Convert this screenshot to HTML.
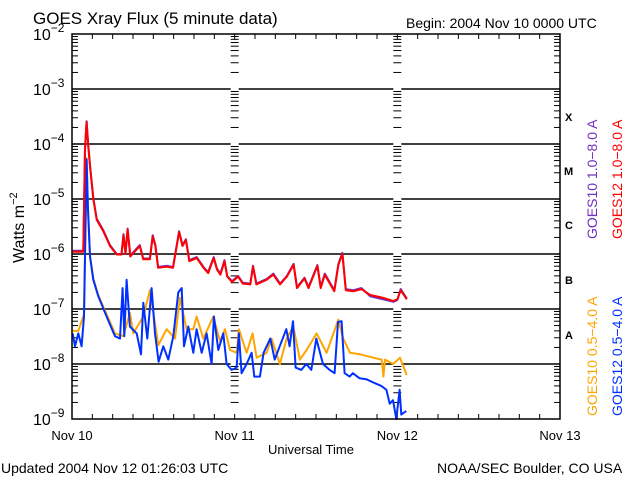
<!DOCTYPE html>
<html><head><meta charset="utf-8"><style>
html,body{margin:0;padding:0;background:#fff}
svg{display:block}
text{font-family:"Liberation Sans",sans-serif}
</style></head><body>
<svg id="chart" width="640" height="480" viewBox="0 0 640 480" xmlns="http://www.w3.org/2000/svg">
<text x="33" y="24" font-size="17" fill="#000">GOES Xray Flux (5 minute data)</text>
<text x="406" y="28" font-size="14" fill="#000">Begin:  2004 Nov 10 0000 UTC</text>
<g id="grid"></g>
<g id="ticks"></g>
<g id="ylabels"></g>
<g id="xlabels"></g>
<g id="series"></g>
<rect x="72" y="34" width="488" height="385" fill="none" stroke="#000" stroke-width="1.5"/>
<text transform="translate(24,263) rotate(-90)" font-size="16" fill="#000">Watts m<tspan font-size="11" dy="-7">−2</tspan></text>
<text x="268" y="454" font-size="13" fill="#000">Universal Time</text>
<text x="1" y="473" font-size="14" fill="#000">Updated 2004 Nov 12 01:26:03 UTC</text>
<text x="437" y="473" font-size="14" fill="#000">NOAA/SEC Boulder, CO USA</text>
<g font-family="Liberation Serif,serif" font-weight="bold" font-size="11" fill="#000">
<text x="565" y="121">X</text>
<text x="564" y="175">M</text>
<text x="565" y="229">C</text>
<text x="565" y="284">B</text>
<text x="565" y="339">A</text>
</g>
<text transform="translate(597,239) rotate(-90)" font-size="14" fill="#7030c0">GOES10 1.0−8.0 A</text>
<text transform="translate(622,239) rotate(-90)" font-size="14" fill="#ff0000">GOES12 1.0−8.0 A</text>
<text transform="translate(597,416) rotate(-90)" font-size="14" fill="#ffa500">GOES10 0.5−4.0 A</text>
<text transform="translate(622,416) rotate(-90)" font-size="14" fill="#0030ff">GOES12 0.5−4.0 A</text>
</svg>
<script>
const dayLabels = ["Nov 10","Nov 11","Nov 12","Nov 13"];
const decadeExps = [-9,-8,-7,-6,-5,-4,-3,-2];
const longHours = [0.1,1.67,1.92,2.16,2.41,2.66,3.15,3.64,4.62,5.6,6.6,7.3,7.6,7.9,8.2,8.6,10.0,10.5,11.5,11.9,12.3,12.7,14.0,14.9,15.8,16.3,16.8,17.3,18.4,19.4,20.1,20.9,21.4,21.9,22.5,22.9,23.6,24.5,25.2,26.3,26.7,27.2,28.7,29.7,30.7,31.7,32.7,33.2,34.3,34.9,36.2,36.7,37.3,38.7,39.3,39.9,40.4,41.5,42.7,44.0,45.9,47.4,48.0,48.5,49.4];
const goes12Long = [1.1e-6,1.1e-6,8e-5,2.5e-4,9e-5,4e-5,1e-5,4.2e-6,2.6e-6,1.4e-6,9.8e-7,9.8e-7,2.2e-6,1.0e-6,2.8e-6,9e-7,1.4e-6,8e-7,8e-7,2.1e-6,1.4e-6,5.6e-7,5.9e-7,5.6e-7,2.5e-6,1.4e-6,1.8e-6,7.4e-7,8.5e-7,5.6e-7,4.5e-7,8.5e-7,5.2e-7,4.2e-7,7.4e-7,3.9e-7,3.1e-7,3.9e-7,2.9e-7,2.8e-7,5.9e-7,2.8e-7,3.4e-7,4.2e-7,2.8e-7,3.9e-7,6.4e-7,2.4e-7,3.6e-7,2.4e-7,6.1e-7,2.4e-7,4.2e-7,2.1e-7,6.4e-7,1.0e-6,2.2e-7,2.1e-7,2.3e-7,1.8e-7,1.6e-7,1.4e-7,1.5e-7,2.2e-7,1.5e-7];
const goes10Long = [1.15e-6,1.15e-6,8.2e-5,2.6e-4,9.2e-5,4.1e-5,1.05e-5,4.4e-6,2.7e-6,1.45e-6,1.0e-6,1.0e-6,2.3e-6,1.05e-6,2.9e-6,9.4e-7,1.45e-6,8.3e-7,8.3e-7,2.2e-6,1.45e-6,5.8e-7,6.1e-7,5.8e-7,2.6e-6,1.45e-6,1.85e-6,7.7e-7,8.8e-7,5.8e-7,4.7e-7,8.8e-7,5.4e-7,4.4e-7,7.7e-7,4.0e-7,3.2e-7,4.0e-7,3.0e-7,2.9e-7,6.1e-7,2.9e-7,3.5e-7,4.4e-7,2.9e-7,4.0e-7,6.6e-7,2.5e-7,3.7e-7,2.5e-7,6.3e-7,2.5e-7,4.4e-7,2.2e-7,6.6e-7,1.05e-6,2.3e-7,2.2e-7,2.4e-7,1.7e-7,1.5e-7,1.35e-7,1.45e-7,2.3e-7,1.55e-7];
const shortHours12 = [0.1,0.44,0.93,1.42,1.77,1.97,2.16,2.36,2.66,3.15,3.88,5.11,6.34,7.08,7.47,7.72,8.06,8.55,9.54,10.18,10.52,11.11,11.75,12.24,12.78,13.47,14.21,14.95,15.68,16.18,16.52,17.16,17.9,18.39,19.13,19.86,20.6,20.94,21.58,22.32,22.81,23.55,24.29,24.63,25.03,25.76,26.5,26.89,27.73,28.27,29.26,29.9,30.64,31.62,32.11,32.6,32.99,33.83,34.57,35.31,36.05,37.03,38.01,38.75,39.24,39.78,40.22,40.96,41.45,42.44,43.42,44.65,45.64,46.38,46.87,47.36,47.85,48.34,48.59,49.33];
const goes12Short = [3.6e-8,2.1e-8,3.6e-8,2.1e-8,7.3e-8,2.4e-6,5.3e-5,6.4e-6,9e-7,3.4e-7,1.7e-7,7.3e-8,3.2e-8,2.9e-8,2.4e-7,3.2e-8,3.4e-7,4.8e-8,3.6e-8,1.5e-8,1.3e-7,2.9e-8,2.4e-7,3.6e-8,1.1e-8,2.1e-8,1.2e-8,3.2e-8,2.0e-7,2.4e-7,2.1e-8,4.8e-8,1.6e-8,4.3e-8,1.6e-8,3.6e-8,1.0e-8,7.3e-8,1.8e-8,3.6e-8,1.0e-8,7.8e-9,8.6e-9,3.6e-8,6.8e-9,1.0e-8,1.6e-8,5.9e-9,5.9e-9,1.6e-8,2.9e-8,1.2e-8,2.1e-8,4.3e-8,2.1e-8,6.0e-8,8.6e-9,7.8e-9,1.0e-8,7.8e-9,2.9e-8,1.0e-8,7.8e-9,6.8e-9,5.8e-8,6.0e-8,6.8e-9,5.9e-9,6.8e-9,5.5e-9,5.3e-9,4.5e-9,4.0e-9,3.4e-9,1.9e-9,2.2e-9,1.0e-9,3.4e-9,1.2e-9,1.4e-9];
const shortHours10 = [0.1,0.93,1.77,1.97,2.16,2.36,2.66,3.15,3.88,5.11,6.34,7.57,8.55,9.05,10.52,11.5,12.73,13.96,15.19,15.93,16.91,17.9,18.39,19.37,20.85,21.84,22.57,23.31,24.29,24.63,25.76,26.65,27.24,28.71,29.45,30.68,31.66,32.65,33.63,34.62,36.09,37.57,39.29,40.02,41.01,42.49,44.46,45.69,45.94,46.18,47.41,48.39,49.38];
const goes10Short = [4e-8,4e-8,8e-8,2.5e-6,5.5e-5,6.6e-6,9.5e-7,3.6e-7,1.8e-7,8e-8,3.6e-8,3.2e-8,8.5e-8,3.6e-8,7.3e-8,2.2e-7,2.2e-8,4.3e-8,2.9e-8,1.6e-7,4.3e-8,4.3e-8,7.3e-8,2.9e-8,7.3e-8,2.6e-8,4.3e-8,1.8e-8,1.6e-8,4.3e-8,1.6e-8,3.6e-8,1.3e-8,1.6e-8,2.9e-8,1.0e-8,2.9e-8,4.8e-8,1.2e-8,1.8e-8,3.6e-8,1.6e-8,6.4e-8,2.9e-8,1.6e-8,1.5e-8,1.3e-8,1.2e-8,5.9e-9,1.2e-8,1.0e-8,1.3e-8,6.3e-9];

const L=72,R=560,T=34,B=419;
const dayW=(R-L)/3;
function xs(h){return L+h/24*dayW;}
function ys(v){return B-(Math.log10(v)+9)*(B-T)/7;}
const NS="http://www.w3.org/2000/svg";
function mk(tag,attrs,parent){const e=document.createElementNS(NS,tag);for(const k in attrs)e.setAttribute(k,attrs[k]);parent.appendChild(e);return e;}
const grid=document.getElementById('grid'),ticks=document.getElementById('ticks');
const ylab=document.getElementById('ylabels'),xlab=document.getElementById('xlabels'),ser=document.getElementById('series');

decadeExps.forEach(function(ex){
  const y=ys(Math.pow(10,ex));
  if(ex>-9&&ex<-2){
    [[L,xs(24)-4],[xs(24)+4,xs(48)-4],[xs(48)+4,R]].forEach(function(seg){
      const g=mk('line',{x1:seg[0],x2:seg[1],y1:y,y2:y,stroke:'#000','stroke-width':1.5},grid);
      
      
    });
  }
  const t=mk('text',{x:33,y:y+6,'font-size':16,fill:'#000'},ylab);
  
  
  t.textContent='10';
  const s=mk('tspan',{'font-size':12,dy:-8},t);
  s.textContent='−'+(-ex);
  if(ex<-2){
    for(let m=2;m<=9;m++){
      const yy=ys(m*Math.pow(10,ex));
      [[L,L+6],[R-6,R],[xs(24)-4,xs(24)+4],[xs(48)-4,xs(48)+4]].forEach(function(p){
        const tk=mk('line',{x1:p[0],x2:p[1],y1:yy,y2:yy,stroke:'#000','stroke-width':1},ticks);
        
        
      });
    }
  }
});
for(let h=3;h<72;h+=3){
  const x=xs(h);
  const tb=mk('line',{x1:x,x2:x,y1:B-5,y2:B,stroke:'#000','stroke-width':1},ticks);
  
  
  const tt=mk('line',{x1:x,x2:x,y1:T,y2:T+5,stroke:'#000','stroke-width':1},ticks);
  
  
}
dayLabels.forEach(function(lbl,i){
  const t=mk('text',{x:xs(i*24),y:440,'font-size':13,fill:'#000','text-anchor':'middle'},xlab);
  
  
  t.textContent=lbl;
});
function pts(hs,vs){
  const p=[];
  for(let i=0;i<hs.length;i++)p.push(xs(hs[i]).toFixed(1)+','+ys(vs[i]).toFixed(1));
  return p.join(' ');
}
function line(hs,vs,color,name){
  const pl=mk('polyline',{points:pts(hs,vs),fill:'none',stroke:color,'stroke-width':2,'stroke-linejoin':'round'},ser);
  
  
}
line(shortHours10,goes10Short,'#ffa500','goes10-short-line');
line(shortHours12,goes12Short,'#0030ff','goes12-short-line');
line(longHours,goes10Long,'#7030c0','goes10-long-line');
line(longHours,goes12Long,'#ff0000','goes12-long-line');
</script>
</body></html>
